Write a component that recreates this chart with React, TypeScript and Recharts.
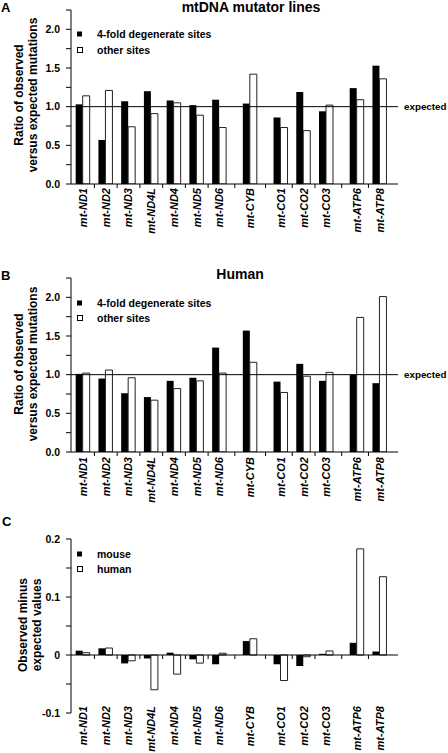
import React from 'react';
import { BarChart, Bar, XAxis, YAxis, ReferenceLine } from 'recharts';

const FONT = '"Liberation Sans", Arial, Helvetica, sans-serif';

// categories
const genes = ['mt-ND1', 'mt-ND2', 'mt-ND3', 'mt-ND4L', 'mt-ND4', 'mt-ND5', 'mt-ND6', 'mt-CYB', 'mt-CO1', 'mt-CO2', 'mt-CO3', 'mt-ATP6', 'mt-ATP8'];
// respiratory complex group of each gene (I, III, IV, V) -> used for the gaps
const complexGroup = [0, 0, 0, 0, 0, 0, 0, 1, 2, 2, 2, 3, 3];

// panel A: mtDNA mutator lines
const mutatorFourFold = [1.03, 0.57, 1.07, 1.2, 1.08, 1.02, 1.09, 1.04, 0.86, 1.19, 0.94, 1.24, 1.53];
const mutatorOther = [1.14, 1.21, 0.74, 0.91, 1.05, 0.89, 0.73, 1.42, 0.73, 0.69, 1.02, 1.09, 1.36];
// panel B: human
const humanFourFold = [1.01, 0.95, 0.76, 0.71, 0.92, 0.96, 1.35, 1.57, 0.91, 1.14, 0.92, 1.0, 0.89];
const humanOther = [1.02, 1.06, 0.96, 0.67, 0.82, 0.92, 1.02, 1.16, 0.77, 0.98, 1.03, 1.74, 2.01];
// panel C: observed minus expected
const diffMouse = [0.0075, 0.0115, -0.0145, -0.006, 0.004, -0.0075, -0.016, 0.024, -0.016, -0.019, 0.002, 0.021, 0.006];
const diffHuman = [0.004, 0.012, -0.01, -0.06, -0.033, -0.014, 0.003, 0.028, -0.044, -0.003, 0.007, 0.183, 0.135];

// tick labels
const ratioTicks = [0, 0.25, 0.5, 0.75, 1, 1.25, 1.5, 1.75, 2, 2.25];
const diffTicks = [-0.1, -0.05, 0, 0.05, 0.1, 0.15, 0.2];

const GAP = 0.35;
const xPos = genes.map((_, i) => i + complexGroup[i] * GAP);
const midTicks = xPos.slice(1).map((x, i) => (x + xPos[i]) / 2);
const xDomain: [number, number] = [xPos[0] - 0.53, xPos[xPos.length - 1] + 0.8];

const rows = (a: number[], b: number[]) => genes.map((g, i) => ({ gene: g, x: xPos[i], a: a[i], b: b[i] }));

const PLOT_H = 174;
const TOP_M = 10;
const XAX_H = 60;

function Panel(props: any) {
  const { top, data, yDomain, yTicks, ratio, labelShift } = props;
  const XTick = (p: any) => {
    const { x, y, payload } = p;
    const idx = xPos.findIndex((v) => Math.abs(v - payload.value) < 1e-6);
    if (idx < 0) {
      if (ratio) return <line x1={x} x2={x} y1={y} y2={y + 4} stroke="#000" strokeWidth={1} />;
      return <g />;
    }
    const ty = y + labelShift;
    return (
      <text x={x} y={ty} transform={`rotate(-90, ${x}, ${ty})`} textAnchor="end" dy="0.36em"
        fontSize={11} fontWeight="bold" fontStyle="italic" fill="#000" fontFamily={FONT}>
        {genes[idx]}
      </text>
    );
  };
  const YTick = (p: any) => {
    const { x, y, payload } = p;
    const v = payload.value;
    let label = '';
    if (ratio) {
      if (Math.abs(v * 2 - Math.round(v * 2)) < 1e-6) label = v.toFixed(1);
    } else {
      if (Math.abs(v * 10 - Math.round(v * 10)) < 1e-6) label = Math.abs(v) < 1e-9 ? '0' : v.toFixed(1);
    }
    if (!label) return <g />;
    return (
      <text x={x - 6} y={y} dy="0.36em" textAnchor="end" fontSize={10.5} fontWeight="bold" fill="#000" fontFamily={FONT}>
        {label}
      </text>
    );
  };
  const span = yDomain[1] - yDomain[0];
  const tickLen = (span / PLOT_H) * 4;
  return (
    <div style={{ position: 'absolute', left: 0, top, width: 448, height: TOP_M + PLOT_H + XAX_H }}>
      <BarChart width={448} height={TOP_M + PLOT_H + XAX_H} data={data}
        margin={{ top: TOP_M, right: 50, left: 0, bottom: 0 }} barGap={0} barSize={7}
        style={{ fontFamily: FONT }}>
        <XAxis dataKey="x" type="number" domain={xDomain} ticks={[...xPos, ...midTicks]} interval={0}
          height={XAX_H} tickSize={0} tickMargin={0} tickLine={false}
          axisLine={ratio ? { stroke: '#000', strokeWidth: 1 } : false}
          tick={XTick} allowDataOverflow />
        <YAxis type="number" domain={yDomain} ticks={yTicks} interval={0} width={71} tickSize={5} tickMargin={0}
          axisLine={{ stroke: '#000', strokeWidth: 1 }} tickLine={{ stroke: '#000', strokeWidth: 1 }}
          tick={YTick} allowDataOverflow />
        {ratio && (
          <ReferenceLine y={1} stroke="#000" strokeWidth={1} ifOverflow="extendDomain"
            label={{ value: 'expected', position: 'right', offset: 6, fill: '#000', fontSize: 9.8, fontWeight: 'bold', fontFamily: FONT }} />
        )}
        {!ratio && <ReferenceLine y={0} stroke="#000" strokeWidth={1} />}
        {!ratio && midTicks.map((m, i) => (
          <ReferenceLine key={i} segment={[{ x: m, y: 0 }, { x: m, y: -tickLen }]} stroke="#000" strokeWidth={1} />
        ))}
        <Bar dataKey="a" fill="#000" isAnimationActive={false} />
        <Bar dataKey="b" fill="#fff" stroke="#222" strokeWidth={1} isAnimationActive={false} />
      </BarChart>
    </div>
  );
}

function Legend2({ y1, y2, t1, t2 }: any) {
  return (
    <g fontFamily={FONT} fontSize={10.5} fontWeight="bold" fill="#000">
      <rect x={77} y={y1 - 2.5} width={5} height={5} fill="#000" />
      <text x={97} y={y1} dy="0.36em">{t1}</text>
      <rect x={77.5} y={y2 - 2.5} width={5} height={5} fill="#fff" stroke="#000" strokeWidth={1} />
      <text x={97} y={y2} dy="0.36em">{t2}</text>
    </g>
  );
}

function YLabel({ cx, cy, lines, gap }: any) {
  return (
    <g fontFamily={FONT} fontSize={12} fontWeight="bold" fill="#000">
      {lines.map((l: string, i: number) => {
        const x = cx + (i - (lines.length - 1) / 2) * gap;
        return (
          <text key={i} x={x} y={cy} transform={`rotate(-90, ${x}, ${cy})`} textAnchor="middle" dy="0.36em">{l}</text>
        );
      })}
    </g>
  );
}

export default function App() {
  return (
    <div style={{ position: 'absolute', left: 0, top: 0, width: 448, height: 753, background: '#fff', overflow: 'hidden' }}>
      <Panel top={0} data={rows(mutatorFourFold, mutatorOther)} yDomain={[0, 2.25]} yTicks={ratioTicks} ratio labelShift={4} />
      <Panel top={268} data={rows(humanFourFold, humanOther)} yDomain={[0, 2.25]} yTicks={ratioTicks} ratio labelShift={5} />
      <Panel top={529} data={rows(diffMouse, diffHuman)} yDomain={[-0.1, 0.2]} yTicks={diffTicks} ratio={false} labelShift={-7} />
      <svg width={448} height={753} style={{ position: 'absolute', left: 0, top: 0, pointerEvents: 'none' }}>
        <g fontFamily={FONT} fontWeight="bold" fill="#000">
          <text x={1} y={12} fontSize={13}>A</text>
          <text x={1} y={280} fontSize={13}>B</text>
          <text x={2} y={526} fontSize={13}>C</text>
          <text x={251} y={12} fontSize={14} textAnchor="middle">mtDNA mutator lines</text>
          <text x={240} y={279} fontSize={14} textAnchor="middle">Human</text>
        </g>
        <YLabel cx={25.5} cy={95} lines={['Ratio of observed', 'versus expected mutations']} gap={14} />
        <YLabel cx={25.5} cy={364} lines={['Ratio of observed', 'versus expected mutations']} gap={14} />
        <YLabel cx={29.5} cy={625} lines={['Observed minus', 'expected values']} gap={14.5} />
        <Legend2 y1={34} y2={50} t1="4-fold degenerate sites" t2="other sites" />
        <Legend2 y1={303} y2={318} t1="4-fold degenerate sites" t2="other sites" />
        <Legend2 y1={554} y2={569} t1="mouse" t2="human" />
      </svg>
    </div>
  );
}
